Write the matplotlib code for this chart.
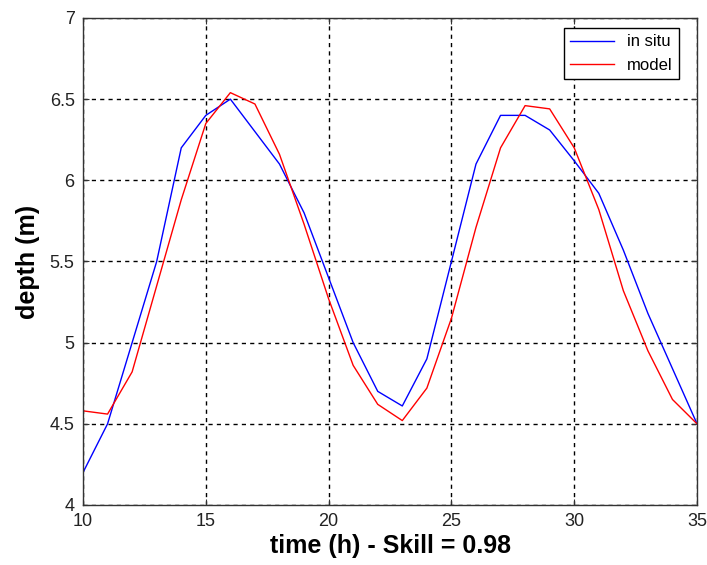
import numpy as np
import matplotlib.pyplot as plt

plt.rcParams['font.family'] = ['Liberation Sans', 'DejaVu Sans']

hours = np.arange(10, 36)
in_situ = [4.20, 4.50, 5.00, 5.50, 6.20, 6.40, 6.50, 6.30, 6.10, 5.80,
           5.40, 5.00, 4.70, 4.61, 4.90, 5.50, 6.10, 6.40, 6.40, 6.31,
           6.12, 5.92, 5.57, 5.18, 4.84, 4.50]
model = [4.58, 4.56, 4.82, 5.35, 5.88, 6.35, 6.54, 6.47, 6.16, 5.73,
         5.27, 4.86, 4.62, 4.52, 4.72, 5.15, 5.71, 6.20, 6.46, 6.44,
         6.20, 5.82, 5.32, 4.95, 4.65, 4.50]
skill = 0.98

fig = plt.figure(figsize=(7.07, 5.65), dpi=100)
ax = fig.add_axes([0.1174, 0.1062, 0.8685, 0.862])

ax.plot(hours, in_situ, color='blue', lw=1.0, label='in situ')
ax.plot(hours, model, color='red', lw=1.0, label='model')

ax.set_xlim(10, 35)
ax.set_ylim(4, 7)
ax.set_xticks([10, 15, 20, 25, 30, 35])
ax.set_yticks([4, 4.5, 5, 5.5, 6, 6.5, 7])
ax.set_yticklabels(['4', '4.5', '5', '5.5', '6', '6.5', '7'])
ax.grid(True, color='black', linestyle=(0, (3, 3)), linewidth=1.0)
ax.tick_params(direction='in', length=4, labelsize=13, top=True, right=True,
               color='#333333', labelcolor='#222222', pad=6)
for s in ax.spines.values():
    s.set_color('#333333')
    s.set_linewidth(1.0)

ax.set_xlabel('time (h) - Skill = %.2f' % skill, fontsize=18, fontweight='bold', labelpad=3)
ax.set_ylabel('depth (m)', fontsize=18, fontweight='bold', labelpad=7)

leg = ax.legend(loc='upper right', bbox_to_anchor=(0.971, 0.98), borderaxespad=0,
                fontsize=12, fancybox=False, framealpha=1, edgecolor='black',
                handlelength=2.6)
leg.get_frame().set_linewidth(1.0)

plt.savefig('out.png', dpi=100)
